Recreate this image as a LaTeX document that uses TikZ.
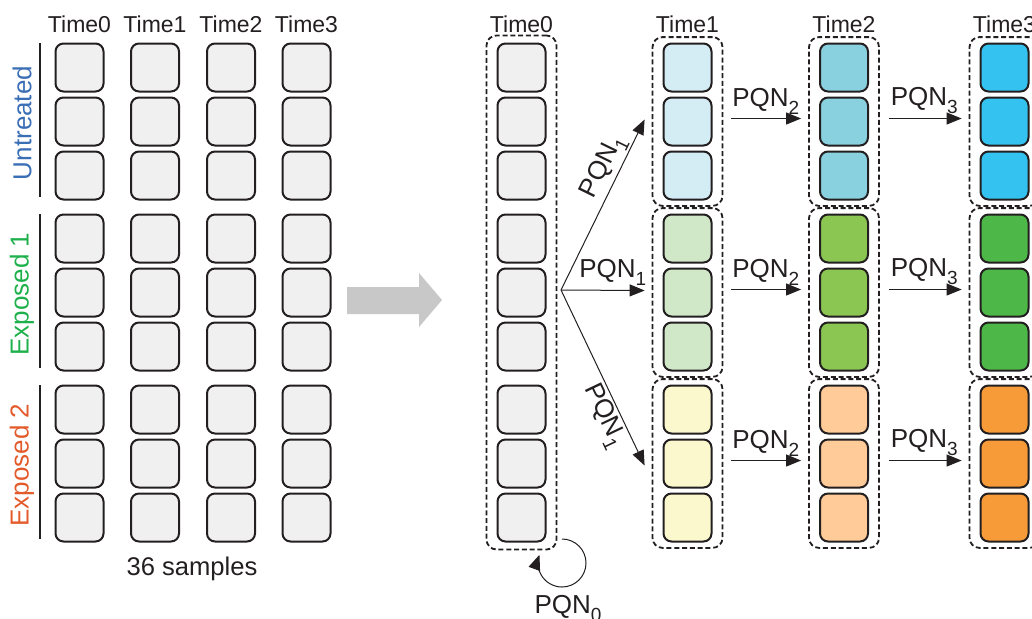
\documentclass[tikz,border=0pt]{standalone}
\usepackage{fontspec}
\setmainfont{Liberation Sans}
\usetikzlibrary{positioning,arrows.meta,fit}

\definecolor{ink}{HTML}{231F20}
\definecolor{smp}{HTML}{F0F0F0}
\definecolor{arrowgray}{HTML}{C8C8C8}
\definecolor{untr}{HTML}{3A6EB5}
\definecolor{expa}{HTML}{1DB04B}
\definecolor{expb}{HTML}{E35A2B}
% fills per group (0..2) and time (1..3)
\definecolor{g0t1}{HTML}{D4ECF3}
\definecolor{g0t2}{HTML}{8AD1DF}
\definecolor{g0t3}{HTML}{34C3F0}
\definecolor{g1t1}{HTML}{D0E7C8}
\definecolor{g1t2}{HTML}{8BC652}
\definecolor{g1t3}{HTML}{4DB748}
\definecolor{g2t1}{HTML}{FBF8CD}
\definecolor{g2t2}{HTML}{FECB99}
\definecolor{g2t3}{HTML}{F79A38}

\newcommand{\pqn}[1]{PQN\raisebox{-4pt}{\fontsize{9.5}{10}\selectfont #1}}

\begin{document}
\begin{tikzpicture}[x=0.5pt,y=-0.5pt,
  sample/.style={draw=ink,line width=1pt,rounded corners=4pt,minimum size=24pt,inner sep=0pt},
  grpbox/.style={draw=ink,dash pattern=on 2.5pt off 1.4pt,line width=0.9pt,rounded corners=5pt,inner xsep=5pt,inner ysep=2.7pt},
  timelbl/.style={font=\fontsize{11.5}{13}\selectfont,text=ink,anchor=base},
  grplbl/.style={font=\fontsize{13}{15}\selectfont,rotate=90},
  pq/.style={-{Triangle[length=7.5pt,width=6pt]},line width=0.5pt,draw=ink},
  pqlbl/.style={font=\fontsize{13}{15}\selectfont,text=ink,inner sep=2pt}]
\useasboundingbox (0,0) rectangle (1032,618);

% sample grid before normalisation
\foreach \g/\name/\col in {0/Untreated/untr,1/Exposed 1/expa,2/Exposed 2/expb}
{
  \pgfmathsetmacro\gy{43+171*\g}
  \foreach \r in {0,1,2}
    \foreach \t/\x in {0/79.5,1/155,2/231,3/306.5}
      \node[sample,fill=smp] (l\g\r\t) at (\x,\gy+24.5+54*\r) {};
  \draw[line width=1pt,ink] (40,\gy) -- (40,\gy+154);
  \node[grplbl,text=\col] (gl\g) at (22,\gy+80) {\name};
}
\foreach \t/\x in {0/79.5,1/155,2/231,3/306.5}
  \node[timelbl] (lt\t) at (\x,32) {Time\t};
\node[font=\fontsize{12.8}{14}\selectfont,text=ink,anchor=base] (nsmp) at (192,575) {36 samples};

% big arrow
\fill[arrowgray] (347,287) -- (419,287) -- (419,273) -- (442,300) -- (419,327) -- (419,314) -- (347,314) -- cycle;

% normalised samples
\foreach \g in {0,1,2}
{
  \pgfmathsetmacro\gy{43+171*\g}
  \foreach \r in {0,1,2}
  {
    \node[sample,fill=smp] (r\g\r0) at (521.5,\gy+24.5+54*\r) {};
    \foreach \t/\x in {1/687.5,2/844,3/1004.5}
      \node[sample,fill=g\g t\t] (r\g\r\t) at (\x,\gy+24.5+54*\r) {};
  }
  \foreach \t in {1,2,3}
    \node[grpbox,fit=(r\g0\t)(r\g2\t)] (box\g\t) {};
}
\node[grpbox,fit=(r000)(r220),inner ysep=3.5pt] (col0) {};
\foreach \t/\x in {0/521.5,1/687.5,2/844,3/1004.5}
  \node[timelbl] (rt\t) at (\x,32) {Time\t};

% PQN steps
\coordinate (fan) at (561,290);
\draw[pq] (fan) -- ([xshift=-3.5pt,yshift=1pt]box01.west) node[pqlbl,pos=0.68,sloped,above,inner sep=1pt] {\pqn{1}};
\draw[pq] (fan) -- ([xshift=-3.5pt,yshift=1pt]box11.west) node[pqlbl,midway,above,xshift=5pt] {\pqn{1}};
\draw[pq] (fan) -- ([xshift=-3.5pt,yshift=-1pt]box21.west) node[pqlbl,pos=0.68,sloped,below,inner sep=1pt] {\pqn{1}};
\foreach \g in {0,1,2}
{
  \draw[pq,shorten <=4pt,shorten >=3.5pt] ([yshift=1.5pt]box\g1.east) -- ([yshift=1.5pt]box\g2.west) node[pqlbl,midway,above] {\pqn{2}};
  \draw[pq,shorten <=4.5pt,shorten >=3.5pt] ([yshift=1.5pt]box\g2.east) -- ([yshift=1.5pt]box\g3.west) node[pqlbl,midway,above] {\pqn{3}};
}
\coordinate (loop) at (562,539);
\draw[pq] (loop) arc[start angle=-90,end angle=200,radius=24];
\node[pqlbl,anchor=base] (pq0) at (568,613) {\pqn{0}};
\end{tikzpicture}
\end{document}
